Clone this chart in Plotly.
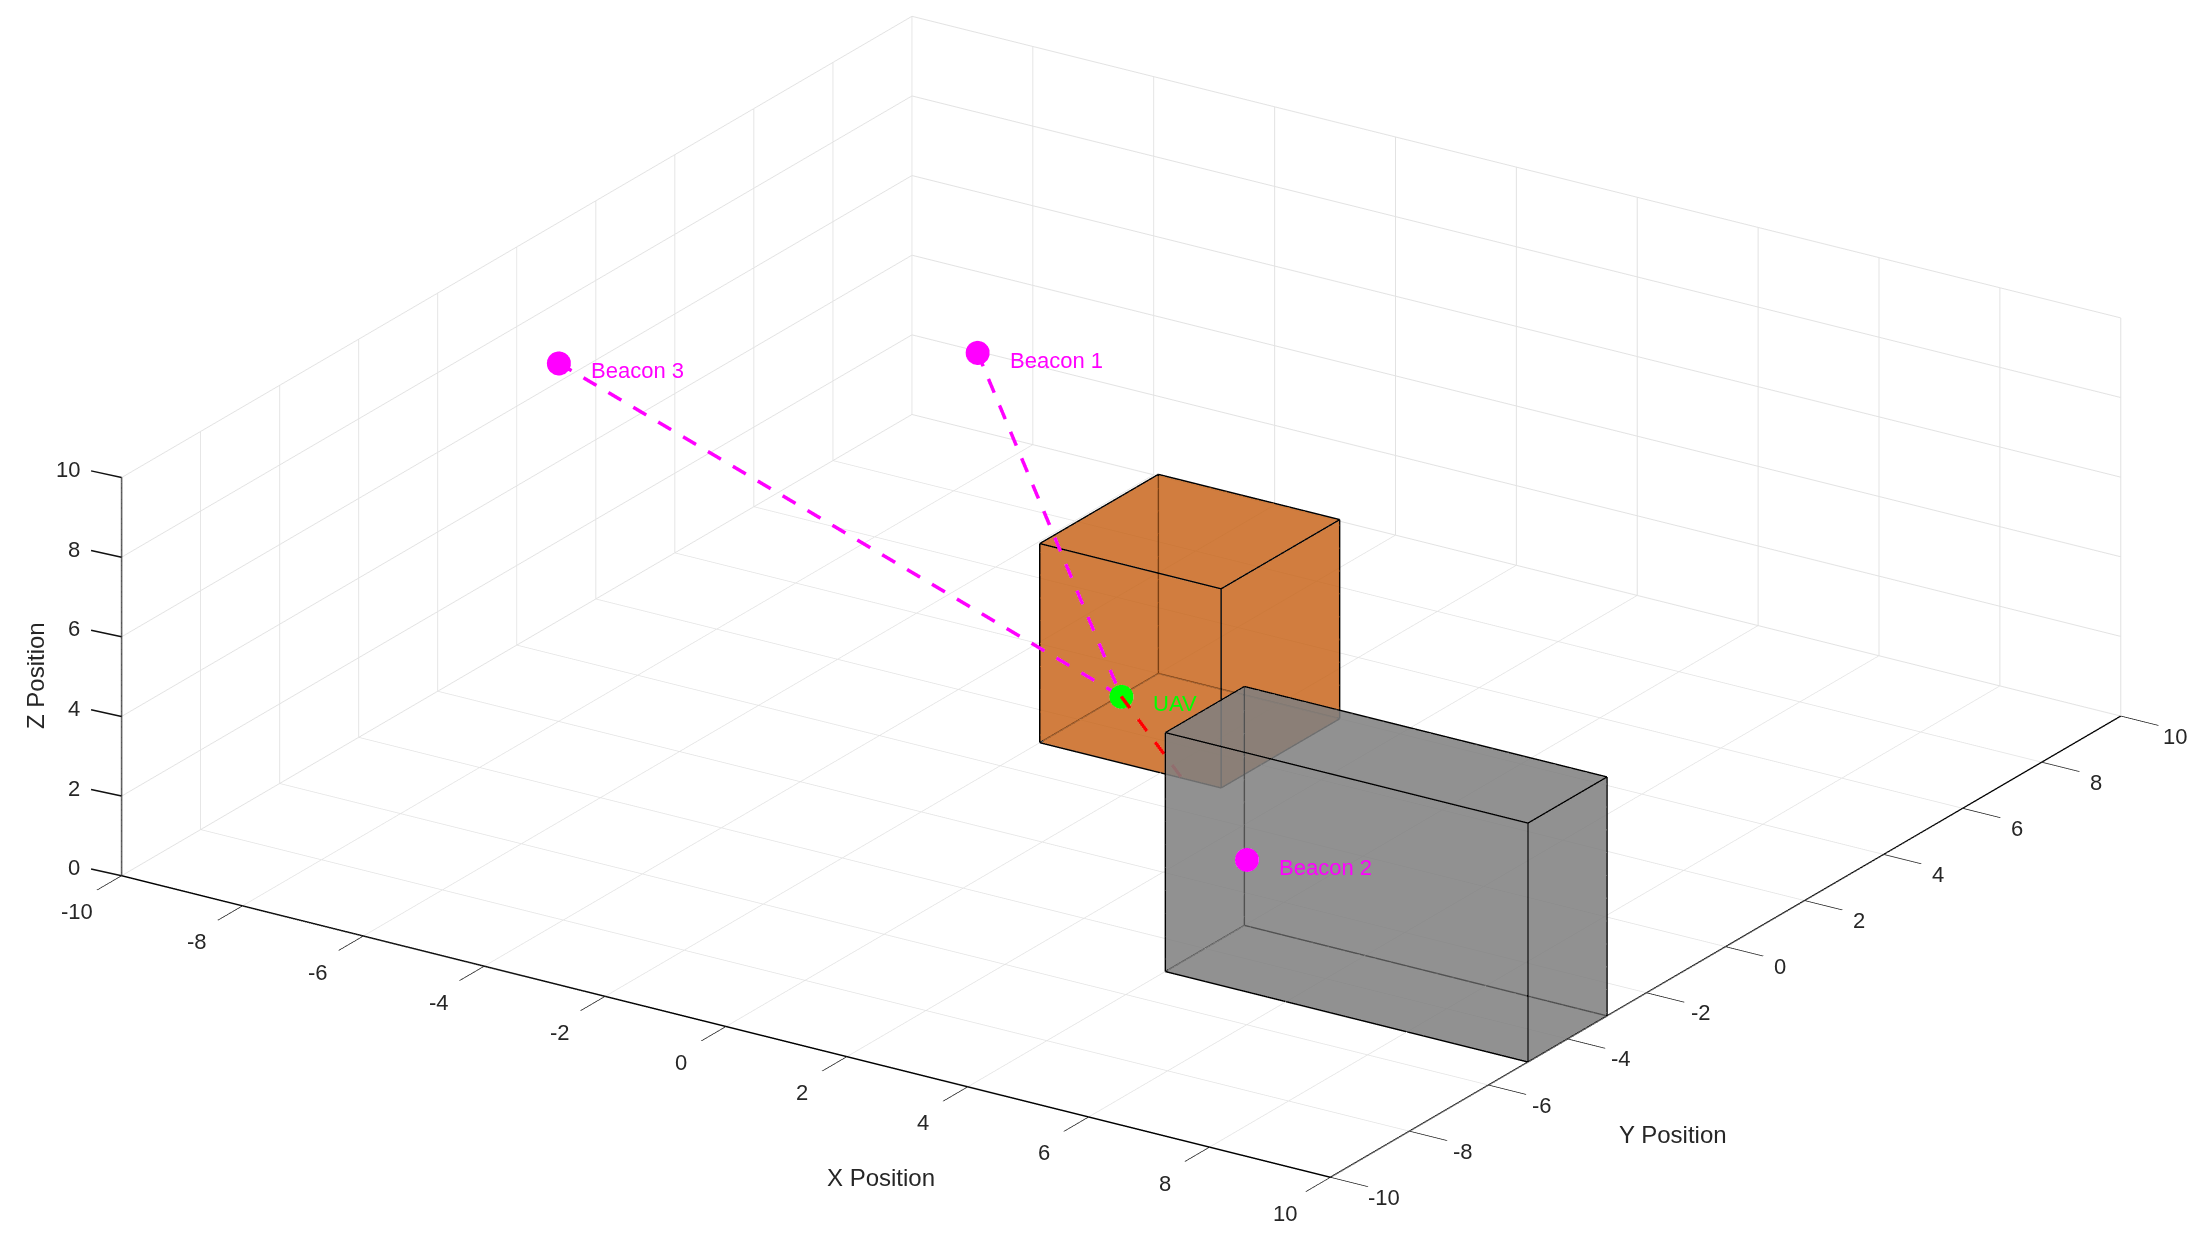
import plotly.graph_objects as go

# Data
x_ticks = [-10, -8, -6, -4, -2, 0, 2, 4, 6, 8, 10]
y_ticks = [-10, -8, -6, -4, -2, 0, 2, 4, 6, 8, 10]
z_ticks = [0, 2, 4, 6, 8, 10]
uav = (0, 0, 2.5)
beacon_names = ["Beacon 1", "Beacon 2", "Beacon 3"]
beacon_x = [-3, 6, -8]
beacon_y = [0.95, -6, -2]
beacon_z = [9.45, 4.15, 9]
hit_point = (3, -3, 3.25)
orange_box = dict(x=(-2, 1), y=(1, 4), z=(0, 5))
gray_box = dict(x=(4, 10), y=(-5, -3), z=(0, 6))

FONT = "Liberation Sans"
MAGENTA = "#ff00ff"
INK = "#262626"
fig = go.Figure()


def add_box(b, color, opacity):
    x0, x1 = b["x"]
    y0, y1 = b["y"]
    z0, z1 = b["z"]
    vx = [x0, x1, x1, x0, x0, x1, x1, x0]
    vy = [y0, y0, y1, y1, y0, y0, y1, y1]
    vz = [z0, z0, z0, z0, z1, z1, z1, z1]
    faces = [(0,1,2),(0,2,3),(4,5,6),(4,6,7),(0,1,5),(0,5,4),(1,2,6),(1,6,5),(2,3,7),(2,7,6),(3,0,4),(3,4,7)]
    fig.add_trace(go.Mesh3d(
        x=vx, y=vy, z=vz,
        i=[f[0] for f in faces], j=[f[1] for f in faces], k=[f[2] for f in faces],
        color=color, opacity=opacity, flatshading=True,
        lighting=dict(ambient=1, diffuse=0, specular=0, fresnel=0, roughness=1),
        hoverinfo="skip", showscale=False))
    ex, ey, ez = [], [], []
    for a, c in [(0,1),(1,2),(2,3),(3,0),(4,5),(5,6),(6,7),(7,4),(0,4),(1,5),(2,6),(3,7)]:
        ex += [vx[a], vx[c], None]
        ey += [vy[a], vy[c], None]
        ez += [vz[a], vz[c], None]
    fig.add_trace(go.Scatter3d(x=ex, y=ey, z=ez, mode="lines",
                               line=dict(color="black", width=3), hoverinfo="skip"))


def add_dashed(p, q, periods, color):
    """Straight p-q line, broken into even dashes (scatter3d's own dash pattern is too fine)."""
    xs, ys, zs = [], [], []
    for n in range(int(periods + 1)):
        t0 = n / periods
        t1 = min((n + 0.52) / periods, 1)
        if t0 >= 1:
            break
        for t in (t0, t1):
            xs.append(p[0] + (q[0] - p[0]) * t)
            ys.append(p[1] + (q[1] - p[1]) * t)
            zs.append(p[2] + (q[2] - p[2]) * t)
        xs.append(None); ys.append(None); zs.append(None)
    fig.add_trace(go.Scatter3d(x=xs, y=ys, z=zs, mode="lines",
                               line=dict(color=color, width=7), hoverinfo="skip"))


add_box(orange_box, "#c8661c", 0.61)
add_box(gray_box, "#808080", 0.63)

add_dashed((beacon_x[0], beacon_y[0], beacon_z[0]), uav, 13, MAGENTA)
add_dashed((beacon_x[2], beacon_y[2], beacon_z[2]), uav, 22.6, MAGENTA)
add_dashed(uav, hit_point, 3.7, "#ff0000")
fig.add_trace(go.Scatter3d(x=beacon_x, y=beacon_y, z=beacon_z, mode="markers",
                           marker=dict(color=MAGENTA, size=14, line=dict(width=0)), hoverinfo="skip"))
fig.add_trace(go.Scatter3d(x=[uav[0]], y=[uav[1]], z=[uav[2]], mode="markers",
                           marker=dict(color="#00ff00", size=14, line=dict(width=0)), hoverinfo="skip"))

annotations = [dict(x=bx + 0.5, y=by, z=bz, text=n, showarrow=False, xanchor="left",
                    font=dict(family=FONT, size=22, color=MAGENTA))
               for n, bx, by, bz in zip(beacon_names, beacon_x, beacon_y, beacon_z)]
annotations.append(dict(x=uav[0] + 0.5, y=uav[1], z=uav[2], text="UAV", showarrow=False, xanchor="left",
                        font=dict(family=FONT, size=22, color="#00ff00")))
TITLE = dict(family=FONT, size=24, color=INK)
TICK = dict(family=FONT, size=22, color=INK)
annotations += [
    dict(x=2.56, y=-10, z=0, text="X Position", showarrow=False, yshift=-112, font=TITLE),
    dict(x=10, y=-1.32, z=0, text="Y Position", showarrow=False, yshift=-157, font=TITLE),
    dict(x=-10, y=-10, z=5.03, text="Z Position", showarrow=False, xshift=-86, textangle=-90, font=TITLE),
]
annotations += [dict(x=t, y=-10, z=0, text=str(t), showarrow=False, xshift=-45, yshift=-36, font=TICK) for t in x_ticks]
annotations += [dict(x=10, y=t, z=0, text=str(t), showarrow=False, xshift=54, yshift=-20, font=TICK) for t in y_ticks]
annotations += [dict(x=-10, y=-10, z=t, text=str(t), showarrow=False, xanchor="right", xshift=-40, yshift=8, font=TICK)
                for t in z_ticks]
# z tick marks lean towards -x in the reference, which the native gl ticks cannot do
annotations += [dict(x=-10, y=-10, z=t, text=" ", showarrow=True, arrowhead=0, arrowwidth=1.5, arrowcolor="#111111",
                     ax=-32, ay=-7, standoff=0, startstandoff=0, font=dict(size=1)) for t in z_ticks]


def axis(ticks, rng, tick_style="outside"):
    return dict(title=dict(text=""),
                range=rng, tickmode="array", tickvals=ticks, showticklabels=False,
                showgrid=True, gridcolor="#e2e2e2", gridwidth=2,
                showline=True, linecolor="#000000", linewidth=3,
                ticks=tick_style, ticklen=45, tickcolor="#111111", tickwidth=2,
                zeroline=False, showbackground=False, showspikes=False)


fig.update_layout(
    width=2207, height=1236, margin=dict(l=0, r=0, t=0, b=0),
    paper_bgcolor="white", showlegend=False,
    scene=dict(
        domain=dict(x=[0, 1], y=[0, 1]),
        xaxis=axis(x_ticks, [-10, 10]),
        yaxis=axis(y_ticks, [-10, 10]),
        zaxis=axis(z_ticks, [0, 10], ""),
        aspectmode="manual", aspectratio=dict(x=2.337, y=2.337, z=0.697),
        camera=dict(projection=dict(type="orthographic"),
                    up=dict(x=0, y=0, z=1),
                    center=dict(x=-0.003, y=-0.024, z=-0.0435),
                    eye=dict(x=2.020, y=-3.118, z=1.4825)),
        annotations=annotations,
    ),
)
fig.write_html("out.html")
